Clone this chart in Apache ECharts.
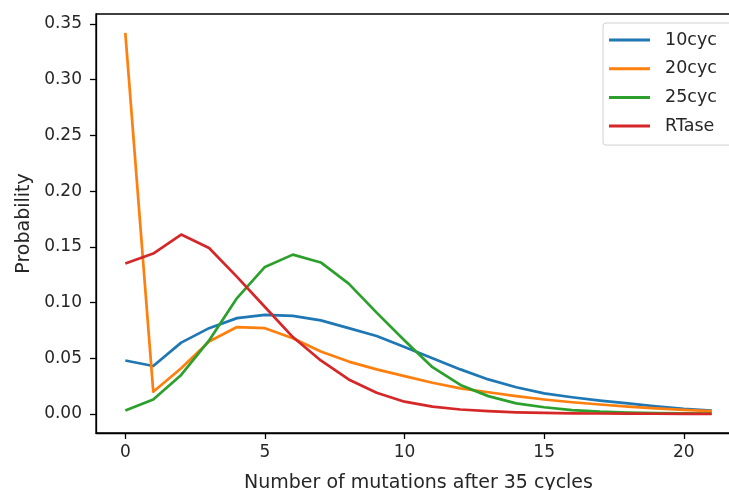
<!DOCTYPE html>
<html>
<head>
<meta charset="utf-8">
<script src="https://cdn.jsdelivr.net/npm/echarts@6/dist/echarts.min.js"></script>
<style>
  html, body { margin: 0; padding: 0; background: #fff; }
  #chart { width: 729px; height: 490px; }
</style>
</head>
<body>
<div id="chart"></div>
<script>
// Number of mutations (x) and the probability of each count per protocol
const mutations = [0, 1, 2, 3, 4, 5, 6, 7, 8, 9, 10, 11, 12, 13, 14, 15, 16, 17, 18, 19, 20, 21];

const cyc10 = [0.048, 0.043, 0.064, 0.077, 0.086, 0.089, 0.088, 0.084, 0.077, 0.070, 0.060, 0.050,
               0.040, 0.031, 0.024, 0.0185, 0.015, 0.012, 0.0095, 0.0068, 0.0045, 0.003];
const cyc20 = [0.342, 0.020, 0.041, 0.065, 0.078, 0.077, 0.068, 0.056, 0.047, 0.040, 0.034, 0.028,
               0.023, 0.0195, 0.016, 0.013, 0.0105, 0.0085, 0.0066, 0.005, 0.0037, 0.0026];
const cyc25 = [0.003, 0.013, 0.035, 0.066, 0.104, 0.132, 0.143, 0.136, 0.117, 0.091, 0.066, 0.042,
               0.026, 0.016, 0.0095, 0.006, 0.0035, 0.002, 0.0012, 0.0008, 0.0005, 0.0003];
const rtase = [0.135, 0.144, 0.161, 0.149, 0.123, 0.096, 0.069, 0.048, 0.031, 0.019, 0.011, 0.0066,
               0.004, 0.0025, 0.0015, 0.001, 0.0006, 0.0004, 0.0003, 0.0002, 0.0001, 0.0001];

const seriesNames = ['10cyc', '20cyc', '25cyc', 'RTase'];
const seriesValues = [cyc10, cyc20, cyc25, rtase];
const seriesColors = ['#1f77b4', '#ff7f0e', '#2ca02c', '#d62728'];

const xTicks = [0, 5, 10, 15, 20];
const yTicks = [0, 0.05, 0.10, 0.15, 0.20, 0.25, 0.30, 0.35];

const FONT = 'DejaVu Sans';
const TEXT = '#262626';
const FS = 17;
const NAME_FS = 19;

const chart = echarts.init(document.getElementById('chart'), null, { renderer: 'canvas' });

const axisCommon = {
  type: 'value',
  splitLine: { show: false },
  axisLine: { show: true, onZero: false, lineStyle: { color: '#000', width: 1.3 } },
  axisTick: { show: true, length: 6, inside: false, lineStyle: { color: '#000', width: 1.3 } },
  nameLocation: 'middle',
  nameTextStyle: { fontFamily: FONT, fontSize: NAME_FS, color: TEXT }
};

chart.setOption({
  animation: false,
  backgroundColor: '#fff',
  color: seriesColors,
  grid: {
    left: 96, top: 14, width: 645, height: 419,
    outerBoundsMode: 'none',
    containLabel: false,
    show: true, borderColor: '#000', borderWidth: 1.3, backgroundColor: 'transparent'
  },
  legend: {
    orient: 'vertical',
    left: 603, top: 23,
    padding: [7, 30, 9, 6],
    itemWidth: 41, itemHeight: 3,
    itemGap: 8.7,
    icon: 'rect',
    backgroundColor: 'rgba(255,255,255,0.8)',
    borderColor: '#d0d0d0', borderWidth: 1, borderRadius: 3,
    textStyle: { fontFamily: FONT, fontSize: 17.5, color: TEXT, lineHeight: 20, padding: [0, 0, 0, 10] },
    data: seriesNames
  },
  xAxis: Object.assign({}, axisCommon, {
    min: -1.05, max: 22.05,
    name: 'Number of mutations after 35 cycles',
    nameGap: 41,
    axisTick: Object.assign({}, axisCommon.axisTick, { customValues: xTicks }),
    axisLabel: {
      customValues: xTicks, margin: 11,
      fontFamily: FONT, fontSize: FS, color: TEXT,
      formatter: v => String(v)
    }
  }),
  yAxis: Object.assign({}, axisCommon, {
    min: -0.0171, max: 0.359,
    name: 'Probability',
    nameGap: 62,
    axisTick: Object.assign({}, axisCommon.axisTick, { customValues: yTicks }),
    axisLabel: {
      customValues: yTicks, margin: 14,
      fontFamily: FONT, fontSize: FS, color: TEXT,
      formatter: v => v.toFixed(2)
    }
  }),
  series: seriesNames.map((name, k) => ({
    name: name,
    type: 'line',
    showSymbol: false,
    symbol: 'none',
    lineStyle: { width: 2.7, color: seriesColors[k], join: 'round' },
    itemStyle: { color: seriesColors[k] },
    data: mutations.map((m, i) => [m, seriesValues[k][i]])
  }))
});
</script>
</body>
</html>
